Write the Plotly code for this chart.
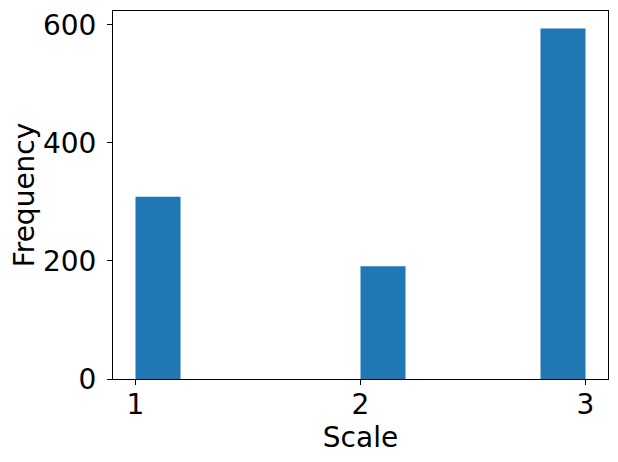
import plotly.graph_objects as go

# histogram bins (left edges) and counts
bin_left = [1.0, 1.2, 1.4, 1.6, 1.8, 2.0, 2.2, 2.4, 2.6, 2.8]
counts = [309, 0, 0, 0, 0, 191, 0, 0, 0, 594]
bin_width = 0.2

x_ticks = [1, 2, 3]
y_ticks = [0, 200, 400, 600]

fig = go.Figure()

fig.add_trace(go.Bar(
    x=bin_left,
    y=counts,
    width=bin_width,
    offset=0,
    marker=dict(color='#1f77b4', line=dict(width=0)),
))

axis_style = dict(
    showgrid=False,
    zeroline=False,
    showline=True,
    mirror=True,
    linecolor='black',
    linewidth=1,
    ticks='outside',
    ticklen=5,
    tickwidth=1,
    tickcolor='black',
    ticklabeloverflow='allow',
    tickfont=dict(size=28, color='black'),
)

fig.update_xaxes(
    range=[0.9, 3.1],
    tickvals=x_ticks,
    ticklabelstandoff=-5,
    title=dict(text='Scale', font=dict(size=28, color='black'), standoff=2),
    **axis_style
)
fig.update_yaxes(
    range=[0, 594 * 1.05],
    tickvals=y_ticks,
    ticklabelstandoff=5,
    title=dict(text='Frequency', font=dict(size=28, color='black'), standoff=0),
    **axis_style
)

# the page puts the plot 8px in from the top-left corner, so size it to fit
fig.update_layout(
    width=610,
    height=454,
    margin=dict(l=105, r=10, t=1, b=83),
    plot_bgcolor='white',
    paper_bgcolor='white',
    font=dict(family='DejaVu Sans', color='black'),
    showlegend=False,
)

fig.write_html("out.html")
